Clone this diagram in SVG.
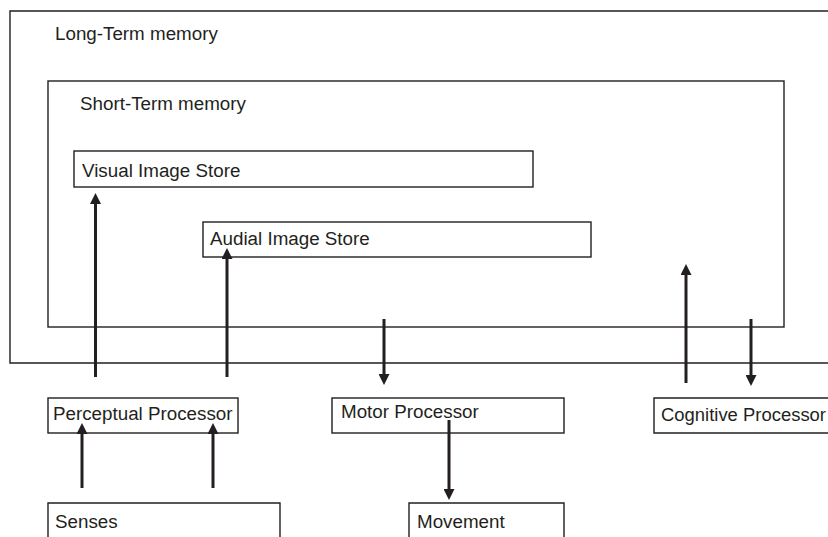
<svg xmlns="http://www.w3.org/2000/svg" width="828" height="537" viewBox="0 0 828 537">
<style>
.box{fill:none;stroke:#231f20;stroke-width:1.4}
.lbl{font-family:"Liberation Sans",Arial,sans-serif;font-size:18.8px;fill:#231f20}
.arr{stroke:#231f20;stroke-width:3;fill:none;marker-end:url(#ah)}
</style>
<defs>
<marker id="ah" viewBox="0 0 11 11" refX="0" refY="5.5" markerWidth="11" markerHeight="11" markerUnits="userSpaceOnUse" orient="auto">
<path d="M0,0 L11,5.5 L0,11 z" fill="#231f20"/>
</marker>
</defs>
<rect width="828" height="537" fill="#fff"/>
<g id="long-term">
<path class="box" d="M835,11 H10 V363 H835"/>
<text class="lbl" x="55" y="40">Long-Term memory</text>
</g>
<g id="short-term">
<rect class="box" x="48" y="81" width="736" height="246"/>
<text class="lbl" x="80" y="110">Short-Term memory</text>
</g>
<g id="visual">
<rect class="box" x="74" y="151" width="459" height="36"/>
<text class="lbl" x="82" y="177">Visual Image Store</text>
</g>
<g id="audial">
<rect class="box" x="203" y="222" width="388" height="35"/>
<text class="lbl" x="210" y="245">Audial Image Store</text>
</g>
<g id="perceptual">
<rect class="box" x="48" y="398" width="190" height="35"/>
<text class="lbl" x="53" y="420">Perceptual Processor</text>
</g>
<g id="motor">
<rect class="box" x="332" y="398" width="232" height="35"/>
<text class="lbl" x="341" y="418">Motor Processor</text>
</g>
<g id="cognitive">
<path class="box" d="M835,398 H654 V433 H835"/>
<text class="lbl" x="661" y="421" textLength="165" lengthAdjust="spacingAndGlyphs">Cognitive Processor</text>
</g>
<g id="senses">
<path class="box" d="M48,545 V503 H280 V545"/>
<text class="lbl" x="55" y="528">Senses</text>
</g>
<g id="movement">
<path class="box" d="M409,545 V503 H564 V545"/>
<text class="lbl" x="417" y="528">Movement</text>
</g>
<g id="connectors">
<line class="arr" x1="95.5" y1="377" x2="95.5" y2="204"/>
<line class="arr" x1="227" y1="377" x2="227" y2="259"/>
<line class="arr" x1="384" y1="319" x2="384" y2="374"/>
<line class="arr" x1="686" y1="383" x2="686" y2="275"/>
<line class="arr" x1="751" y1="319" x2="751" y2="375"/>
<line class="arr" x1="449" y1="420" x2="449" y2="489"/>
<line class="arr" x1="82" y1="488" x2="82" y2="434"/>
<line class="arr" x1="213" y1="488" x2="213" y2="434"/>
</g>
</svg>
